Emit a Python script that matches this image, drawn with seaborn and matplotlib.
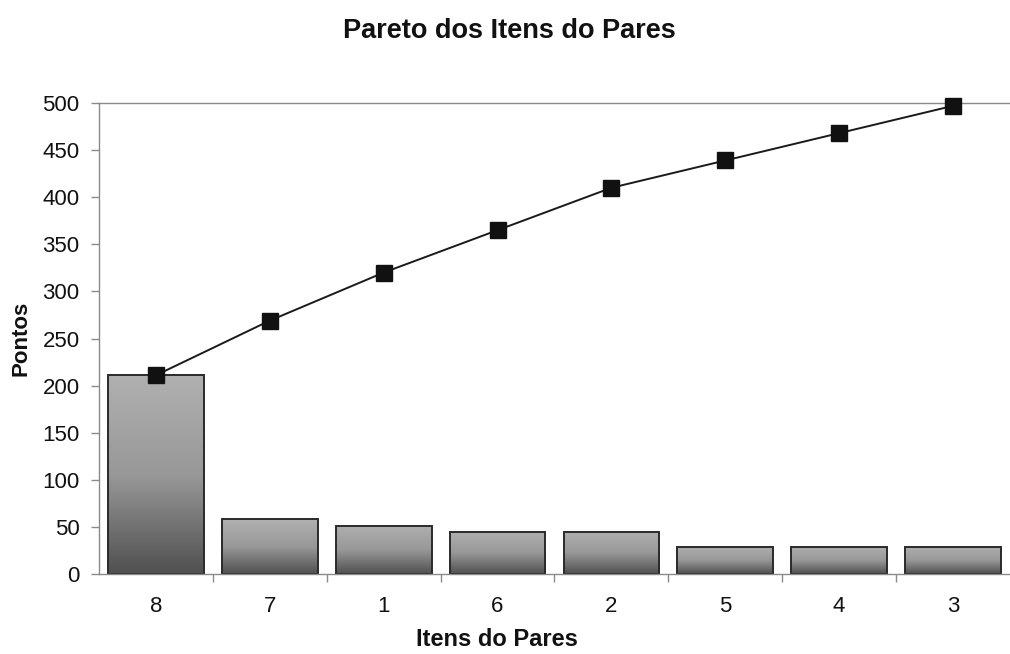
import numpy as np
import pandas as pd
import matplotlib
matplotlib.use("Agg")
import matplotlib.pyplot as plt
import seaborn as sns

# Itens do Pares, ordered by score (Pareto order)
itens = ["8", "7", "1", "6", "2", "5", "4", "3"]
pontos = [211, 58, 51, 45, 45, 29, 29, 29]
acumulado = list(np.cumsum(pontos))

df = pd.DataFrame({"item": itens, "pontos": pontos, "acumulado": acumulado})

sns.set_theme(style="white")
plt.rcParams["font.family"] = ["Liberation Sans", "DejaVu Sans"]

fig = plt.figure(figsize=(10.1, 6.54), dpi=100)
ax = fig.add_axes([0.098, 0.1223, 0.902, 0.7202])

sns.barplot(data=df, x="item", y="pontos", order=itens, ax=ax,
            color="#888888", edgecolor="#2a2a2a", linewidth=1.4, width=0.84,
            saturation=1)

# vertical grey gradient inside each bar (light top, dark bottom)
grad = np.linspace(0, 1, 256).reshape(-1, 1)
cmap = matplotlib.colors.LinearSegmentedColormap.from_list(
    "barra", ["#b0b0b0", "#989898", "#505050"])
for patch in ax.patches:
    x0, y0 = patch.get_x(), patch.get_y()
    w, h = patch.get_width(), patch.get_height()
    patch.set_facecolor("none")
    im = ax.imshow(grad, cmap=cmap, aspect="auto", origin="upper",
                   extent=[x0, x0 + w, y0, y0 + h], zorder=patch.get_zorder() - 0.1,
                   interpolation="bicubic")
    im.set_clip_path(patch)

# cumulative line
ax.plot(range(len(itens)), df["acumulado"], color="#1a1a1a", linewidth=1.4,
        marker="s", markersize=11.5, markerfacecolor="#111111",
        markeredgecolor="#111111", zorder=5, clip_on=False)

ax.set_xlim(-0.5, len(itens) - 0.5)
ax.set_ylim(0, 500)
ax.set_yticks(range(0, 501, 50))

# spines: grey left, bottom and top line at 500
for side in ["left", "bottom", "top"]:
    ax.spines[side].set_visible(True)
    ax.spines[side].set_color("#8a8a8a")
    ax.spines[side].set_linewidth(1.0)
ax.spines["right"].set_visible(False)

# y ticks outward on the left; x ticks at category boundaries
ax.tick_params(axis="y", which="major", direction="out", length=6, width=1,
               color="#8a8a8a", left=True, labelsize=16, labelcolor="#111111", pad=8)
ax.set_xticks(np.arange(len(itens)))
ax.set_xticklabels(itens)
ax.tick_params(axis="x", which="major", length=0, labelsize=16,
               labelcolor="#111111", pad=16)
ax.set_xticks(np.arange(0.5, len(itens) - 0.5, 1), minor=True)
ax.tick_params(axis="x", which="minor", direction="out", length=6, width=1,
               color="#8a8a8a", bottom=True)

ax.set_xlabel("Itens do Pares", fontsize=17, fontweight="bold", labelpad=8,
              color="#111111")
ax.xaxis.label.set_x(0.437)
ax.set_ylabel("Pontos", fontsize=16, fontweight="bold", labelpad=8,
              color="#111111")
fig.text(0.504, 0.953, "Pareto dos Itens do Pares", fontsize=19.5,
         fontweight="bold", ha="center", va="center", color="#111111")

ax.set_facecolor("white")
fig.patch.set_facecolor("white")
fig.savefig("out.png", dpi=100)
